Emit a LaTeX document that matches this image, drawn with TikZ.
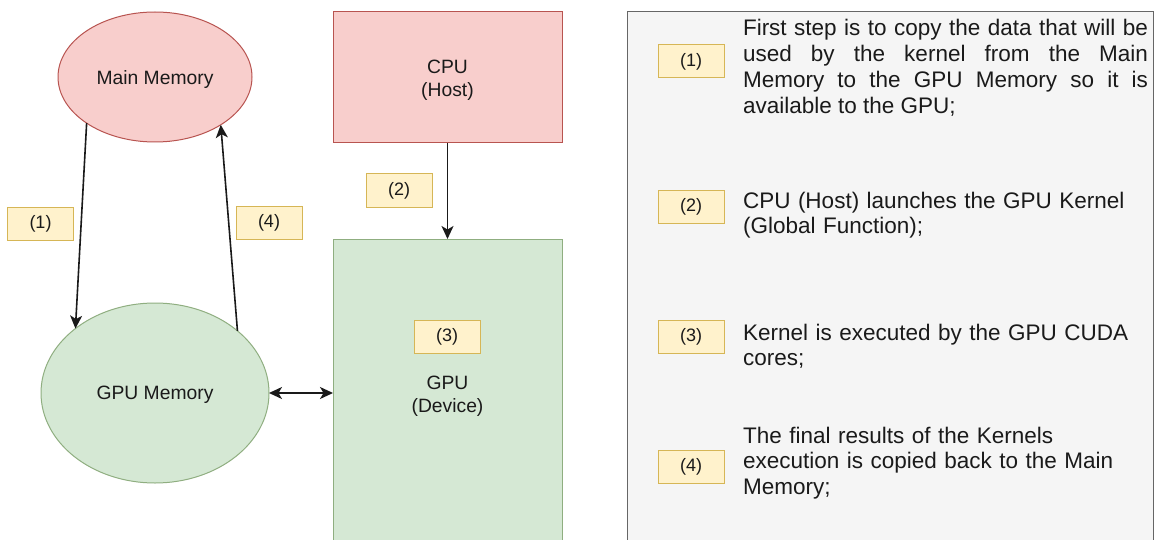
\documentclass[tikz,border=0pt]{standalone}
\usepackage{fontspec}
\setmainfont{Liberation Sans}
\usetikzlibrary{arrows.meta,shapes.geometric}
\definecolor{redfill}{HTML}{F8CECC}
\definecolor{redline}{HTML}{B85450}
\definecolor{greenfill}{HTML}{D5E8D4}
\definecolor{greenline}{HTML}{8FAE80}
\definecolor{yelfill}{HTML}{FFF2CC}
\definecolor{yelline}{HTML}{D6B656}
\definecolor{panelfill}{HTML}{F5F5F5}
\definecolor{panelline}{HTML}{666666}
\definecolor{ink}{HTML}{1A1A1A}
\begin{document}
\begin{tikzpicture}[x=1pt,y=-1pt,
  >={Stealth[length=13pt,width=12pt,inset=3.5pt]},
  every node/.style={text=ink, inner sep=0pt, outer sep=0pt},
  dfont/.style={font=\fontsize{19.3}{23}\selectfont},
  tagfont/.style={font=\fontsize{18}{21}\selectfont},
  redell/.style={ellipse, draw=redline, fill=redfill, line width=1pt, dfont, text depth=0pt},
  greenell/.style={ellipse, draw=greenline, fill=greenfill, line width=1pt, dfont, text depth=0pt},
  redbox/.style={rectangle, draw=redline, fill=redfill, line width=1pt},
  greenbox/.style={rectangle, draw=greenline, fill=greenfill, line width=1pt},
  boxtext/.style={dfont, align=center, anchor=base},
  panelbox/.style={rectangle, draw=panelline, fill=panelfill, line width=1pt},
  tag/.style={rectangle, draw=yelline, fill=yelfill, line width=1pt, minimum width=66pt, minimum height=33pt, tagfont},
  conn/.style={line width=1.6pt, draw=ink, ->},
  biconn/.style={line width=1.6pt, draw=ink, <->},
  legtext/.style={anchor=base west, text width=405pt, align=left, font=\fontsize{22.5}{25.7}\selectfont},
]
\useasboundingbox (0,0) rectangle (1155,540);
\clip (0,0) rectangle (1155,540);
\fill[white] (0,0) rectangle (1155,540);

% left diagram
\node[redell, minimum width=194pt, minimum height=130pt] (mm) at (155,77) {\raisebox{-2pt}{Main Memory}};
\node[greenell, minimum width=228pt, minimum height=180pt] (gm) at (155,393) {GPU Memory};
\node[redbox, minimum width=229pt, minimum height=131pt] (cpu) at (447.5,77.5) {};
\node[boxtext] (cpulbl) at (447.5,97) {CPU\\(Host)};
\node[greenbox, anchor=north, minimum width=229pt, minimum height=340pt] (gpu) at (447.5,239) {};
\node[boxtext] (gpulbl) at (447.5,412.5) {GPU\\(Device)};

\node[tag] (l1) at (40.5,223.5) {(1)};
\node[tag] (l4) at (269,223) {(4)};
\node[tag] (l2) at (399,190.5) {(2)};
\node[tag] (l3) at (447,337) {(3)};

\draw[conn] (mm.214.3) -- (gm.141.4);
\draw[conn] (gm.37.3) -- (mm.324.5);
\draw[conn] (cpu.south) -- (gpu.north);
\draw[biconn] (gm.east) -- (gm.east -| gpu.west);

% legend panel
\node[panelbox, anchor=north west, minimum width=526pt, minimum height=560pt] (panel) at (627,12) {};
\node[tag] (k1) at (691,61.5) {(1)};
\node[tag] (k2) at (691,207) {(2)};
\node[tag] (k3) at (691,337) {(3)};
\node[tag] (k4) at (691,466.5) {(4)};

\node[legtext, align=justify, font=\fontsize{22.5}{25.9}\selectfont] (t1) at (743,35.5) {First step is to copy the data that will be\linebreak used by the kernel from the Main\linebreak Memory to the GPU Memory so it is\linebreak available to the GPU;};
\node[legtext] (t2) at (743,208) {CPU (Host) launches the GPU Kernel\\(Global Function);};
\node[legtext] (t3) at (743,340) {Kernel is executed by the GPU CUDA\\cores;};
\node[legtext] (t4) at (743,443) {The final results of the Kernels\\execution is copied back to the Main\\Memory;};
\end{tikzpicture}
\end{document}
